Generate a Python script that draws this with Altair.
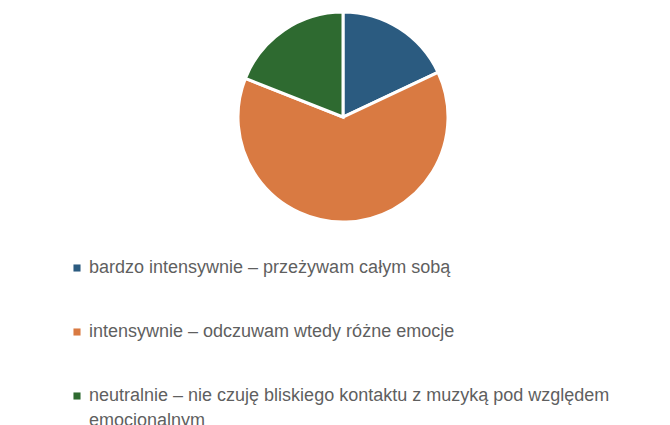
import altair as alt
import pandas as pd

categories = [
    "bardzo intensywnie – przeżywam całym sobą",
    "intensywnie – odczuwam wtedy różne emocje",
    "neutralnie – nie czuję bliskiego kontaktu z muzyką pod względem emocjonalnym",
]
values = [18, 63, 19]
colors = ["#2B5B80", "#D97A42", "#2E6A30"]

df = pd.DataFrame({"kategoria": categories, "wartosc": values, "order": [0, 1, 2]})

label_expr = (
    "indexof(datum.label, 'pod względem') > 0 ? "
    "['neutralnie – nie czuję bliskiego kontaktu z muzyką pod względem', 'emocjonalnym'] : datum.label"
)

chart = alt.Chart(df).mark_arc(stroke="white", strokeWidth=3, outerRadius=105).encode(
    theta=alt.Theta("wartosc:Q", stack=True),
    order=alt.Order("order:Q"),
    color=alt.Color(
        "kategoria:N",
        sort=categories,
        scale=alt.Scale(domain=categories, range=colors),
        legend=alt.Legend(
            title=None,
            orient="none",
            legendX=60,
            legendY=251,
            symbolType="square",
            symbolSize=50,
            symbolStrokeWidth=0,
            labelFont="Liberation Sans",
            labelFontSize=18,
            labelColor="#5f5f5f",
            labelLimit=700,
            rowPadding=46,
            labelOffset=3,
            labelExpr=label_expr,
        ),
    ),
    x=alt.value(335),
    y=alt.value(109),
).properties(
    width=654,
    height=417,
    padding=0,
    autosize=alt.AutoSizeParams(type="none"),
).configure(style={"guide-label": {"lineHeight": 25}}).configure_view(stroke=None)

chart.save("out.html", embed_options={"renderer": "svg", "actions": False})
